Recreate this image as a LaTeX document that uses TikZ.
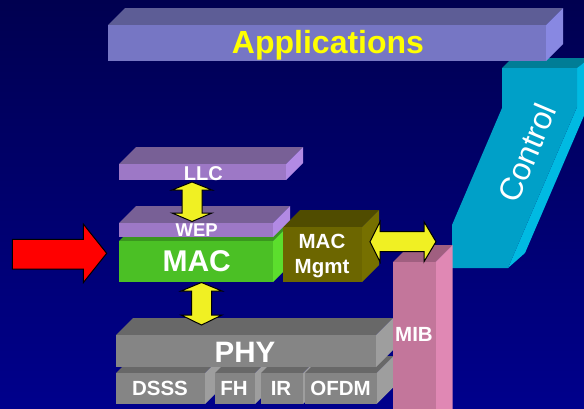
\documentclass[tikz,border=0pt]{standalone}
\usepackage{fontspec}
\setmainfont{Liberation Sans}
% background
\definecolor{bgtop}{RGB}{0,0,80}
\definecolor{bgbot}{RGB}{0,0,140}
% slab colours: front / top / side
\definecolor{appF}{RGB}{118,118,196}\definecolor{appT}{RGB}{93,93,150}\definecolor{appS}{RGB}{136,136,226}
\definecolor{llcF}{RGB}{157,120,198}\definecolor{llcT}{RGB}{120,96,150}\definecolor{llcS}{RGB}{178,138,228}
\definecolor{macF}{RGB}{75,192,37}\definecolor{macT}{RGB}{58,150,30}\definecolor{macS}{RGB}{92,222,45}
\definecolor{mgmF}{RGB}{108,102,0}\definecolor{mgmT}{RGB}{80,76,0}\definecolor{mgmS}{RGB}{118,112,0}
\definecolor{phyF}{RGB}{133,133,133}\definecolor{phyT}{RGB}{104,104,104}\definecolor{phyS}{RGB}{158,158,158}
\definecolor{mibF}{RGB}{195,118,155}\definecolor{mibT}{RGB}{160,95,128}\definecolor{mibS}{RGB}{224,136,180}
\definecolor{ctlF}{RGB}{0,160,200}\definecolor{ctlT}{RGB}{0,125,150}\definecolor{ctlS}{RGB}{0,186,226}
\definecolor{arrY}{RGB}{240,240,35}
\definecolor{appText}{RGB}{255,255,0}

% a 3-D slab: name, x1, y1, x2, y2 (front face), front, top and side colours
\newcommand\slab[8]{%
  \fill[#7] (#2,#3) -- ++(17,-17) -- ({#4+17},{#3-17}) -- (#4,#3) -- cycle;
  \fill[#8] (#4,#3) -- ++(17,-17) -- ({#4+17},{#5-17}) -- (#4,#5) -- cycle;
  \pgfmathsetmacro\slabw{#4-#2}\pgfmathsetmacro\slabh{#5-#3}%
  \node[fill=#6, inner sep=0pt, outer sep=0pt, minimum width=\slabw pt,
        minimum height=\slabh pt, anchor=north west] (#1) at (#2,#3) {};
}

\tikzset{
  lbl/.style={text=white, font=\bfseries\fontsize{#1}{#1}\selectfont, inner sep=0pt, anchor=base},
  lbl/.default=20.5,
  blockarrow/.style={fill=arrY, draw=black, line width=1pt, line join=miter},
  redarrow/.style={fill=red, draw=black, line width=1pt, line join=miter}
}

\begin{document}
\begin{tikzpicture}[x=1pt,y=-1pt]
\useasboundingbox (0,0) rectangle (584,408);
\clip (0,0) rectangle (584,408);
\shade[top color=bgtop, bottom color=bgbot] (0,0) rectangle (584,408);

% Control column
\fill[ctlT] (502,68) -- (512,58) -- (590,58) -- (577,68) -- cycle;
\fill[ctlS] (577,68) -- (590,58) -- (592,97) -- (525,253) -- (508,268) -- (577,107) -- cycle;
\fill[ctlF] (502,68) -- (577,68) -- (577,107) -- (508,268) -- (452,268)
            -- (452,225) -- (502,108) -- cycle;
\node[text=white, font=\fontsize{32}{32}\selectfont, rotate=67, inner sep=0pt]
  (tCtl) at (527,153) {Control};

% Applications
\slab{app}{108}{25}{546}{61}{appF}{appT}{appS}
\node[lbl=32, text=appText] (tApp) at (328,53.3) {Applications};

% MAC layer
\slab{mac}{119}{241}{273}{282}{macF}{macT}{macS}
\slab{mgmt}{283}{227}{362}{282}{mgmF}{mgmT}{mgmS}
\slab{wep}{119}{223}{273}{237}{llcF}{llcT}{llcS}
\slab{llc}{119}{164}{286}{180}{llcF}{llcT}{llcS}
\node[lbl=20] (tLlc) at (203.3,180) {LLC};
\node[lbl=18.5] (tWep) at (196.7,236.7) {WEP};
\node[lbl=30] (tMac) at (196.7,271) {MAC};
\node[lbl] (tMgmt1) at (322,248) {MAC};
\node[lbl] (tMgmt2) at (322,273.3) {Mgmt};

% PHY layer
\slab{dsss}{116}{373}{205}{404}{phyF}{phyT}{phyS}
\slab{fh}{215}{373}{255}{404}{phyF}{phyT}{phyS}
\slab{ir}{261}{373}{303}{404}{phyF}{phyT}{phyS}
\slab{ofdm}{305}{373}{376.5}{404}{phyF}{phyT}{phyS}
\slab{phy}{116}{335}{376}{367}{phyF}{phyT}{phyS}
\node[lbl=29.5] (tPhy) at (245,362.7) {PHY};
\node[lbl] (tDsss) at (160,395.7) {DSSS};
\node[lbl] (tFh) at (234,395.7) {FH};
\node[lbl] (tIr) at (281,395.7) {IR};
\node[lbl] (tOfdm) at (340.5,395.7) {OFDM};

% MIB
\slab{mib}{393}{262}{435.5}{430}{mibF}{mibT}{mibS}
\node[lbl] (tMib) at (414,341) {MIB};

% LLC <-> WEP
\draw[blockarrow] (192,182) -- (212,190) -- (202,190) -- (202,213) -- (212,213)
  -- (192,221.5) -- (172,213) -- (182,213) -- (182,190) -- (172,190) -- cycle;
% MAC <-> PHY
\draw[blockarrow] (201.5,282.5) -- (222,291) -- (211.5,291) -- (211.5,315) -- (222,315)
  -- (201.5,325) -- (181,315) -- (191.5,315) -- (191.5,291) -- (181,291) -- cycle;
% MAC Mgmt <-> MIB
\draw[blockarrow] (370,241.7) -- (380,221.7) -- (380,231.7) -- (424,231.7) -- (424,221.7)
  -- (436,241.7) -- (424,261.7) -- (424,251.7) -- (380,251.7) -- (380,261.7) -- cycle;

% incoming arrow
\draw[redarrow] (12.3,239.3) -- (83.3,239.3) -- (83.3,224) -- (106.7,253.3)
  -- (83.3,282.7) -- (83.3,269) -- (12.3,269) -- cycle;
\end{tikzpicture}
\end{document}
